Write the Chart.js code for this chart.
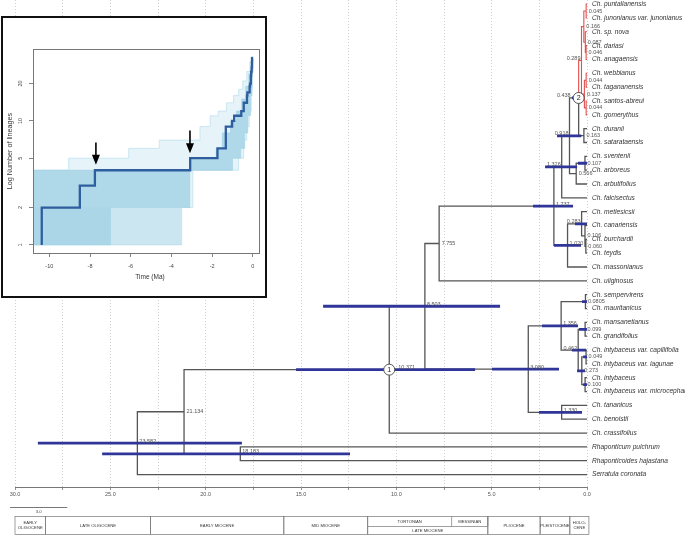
<!DOCTYPE html>
<html>
<head>
<meta charset="utf-8">
<script src="https://cdn.jsdelivr.net/npm/chart.js@4.4.1/dist/chart.umd.min.js"></script>
<style>
  html, body { margin: 0; padding: 0; background: #fff; }
  #wrap { position: relative; width: 685px; height: 535px; }
  #inset { position: absolute; left: 1px; top: 16px; width: 262px; height: 278px; border: 2px solid #111; background: #fff; }
</style>
</head>
<body>
<div id="wrap">
  <canvas id="tree" width="685" height="535"></canvas>
  <div id="inset"><canvas id="ltt" width="262" height="278"></canvas></div>
</div>
<script>
// ---- tree data (tips listed top to bottom) ----
var tipNames = ['Ch. puntallanensis', 'Ch. junonianus var. junonianus', 'Ch. sp. nova', 'Ch. dariasi', 'Ch. anagaensis',
  'Ch. webbianus', 'Ch. tagananensis', 'Ch. santos-abreui', 'Ch. gomerythus', 'Ch. duranii', 'Ch. satarataensis',
  'Ch. sventenii', 'Ch. arboreus', 'Ch. arbutifolius', 'Ch. falcisectus', 'Ch. metlesicsii', 'Ch. canariensis',
  'Ch. burchardii', 'Ch. teydis', 'Ch. massonianus', 'Ch. uliginosus', 'Ch. sempervirens', 'Ch. mauritanicus',
  'Ch. mansanetianus', 'Ch. grandifolius', 'Ch. intybaceus var. capillifolia', 'Ch. intybaceus var. lagunae',
  'Ch. intybaceus', 'Ch. intybaceus var. microcephala', 'Ch. tananicus', 'Ch. benoistii', 'Ch. crassifolius',
  'Rhaponticum pulchrum', 'Rhaponticoides hajastana', 'Serratula coronata'];

// node ages (Ma), children: <100 = tip index, 100+k = node k
var nodeAges = [0.045, 0.046, 0.087, 0.166, 0.044, 0.044, 0.137, 0.289, 0.163, 0.438, 0.107, 0.566, 0.918, 1.326,
  0.060, 0.106, 0.283, 1.020, 1.737, 7.755, 0.0805, 0.099, 0.049, 0.100, 0.273, 0.462, 1.356, 1.330, 3.080,
  8.503, 10.371, 18.183, 21.134, 23.582];
var nodeKids = [[0, 1], [3, 4], [2, 101], [100, 102], [5, 6], [7, 8], [104, 105], [103, 106], [9, 10], [107, 108],
  [11, 12], [110, 13], [109, 111], [112, 14], [17, 18], [16, 114], [15, 115], [116, 19], [113, 117], [118, 20],
  [21, 22], [23, 24], [25, 26], [27, 28], [122, 123], [121, 124], [120, 125], [29, 30], [126, 127], [119, 128],
  [129, 31], [32, 33], [130, 131], [132, 34]];
// 95% HPD of node ages (null = not drawn)
var hpdLow = [null, null, null, null, null, null, null, null, null, 0.25, 0.0, null, 0.30, 0.52,
  null, null, 0.0, 0.31, 0.73, null, 0.0, 0.0, 0.0, 0.0, 0.10, 0.05, 0.47, 0.26, 1.47,
  4.56, 5.87, 12.43, null, 18.1];
var hpdHigh = [null, null, null, null, null, null, null, null, null, 0.79, 0.47, null, 1.57, 2.20,
  null, null, 0.63, 1.73, 2.83, null, 0.26, 0.42, 0.20, 0.20, 0.52, 0.79, 2.36, 2.52, 4.98,
  13.84, 15.26, 25.43, null, 28.8];
var redCladeNode = 7;
var circleNodes = [30, 9];
var circleText = ['1', '2'];

// time axis and geological scale
var axisTicks = [0, 2.5, 5, 7.5, 10, 12.5, 15, 17.5, 20, 22.5, 25, 27.5, 30];
var epochStart = [30, 28.4, 22.9, 15.9, 11.5, 5.2, 2.46, 0.9];
var epochEnd = [28.4, 22.9, 15.9, 11.5, 5.2, 2.46, 0.9, -0.1];
var epochNames = ['EARLY|OLIGOCENE', 'LATE OLIGOCENE', 'EARLY MIOCENE', 'MID MIOCENE', 'LATE MIOCENE', 'PLIOCENE', 'PLEISTOCENE', 'HOLO-|CENE'];
var stageStart = [11.5, 7.1];
var stageEnd = [7.1, 5.2];
var stageNames = ['TORTONIAN', 'MESSINIAN'];
var scaleBarStart = 30.26, scaleBarLen = 3.0;

// ---- lineages-through-time inset ----
var lttTimes = [-10.37, -10.37, -8.50, -7.76, -3.08, -1.74, -1.33, -1.02, -0.92, -0.57, -0.45, -0.29, -0.27, -0.16, -0.14, -0.10, -0.087, -0.06, -0.046, -0.044, 0];
var lttCounts = [1, 2, 3, 4, 5, 6, 9, 10, 11, 12, 14, 16, 17, 19, 20, 23, 25, 27, 29, 32, 32];
var outerTopT = [-10.8, -9.05, -6.1, -4.6, -2.6, -2.1, -1.7, -1.3, -0.95, -0.7, -0.5, -0.3, -0.15, -0.05, 0];
var outerTopN = [4, 5, 6, 7, 9, 11, 12, 14, 16, 18, 21, 25, 30, 33, 33];
var outerBotT = [-10.8, -3.5, -2.95, -0.7, -0.45, -0.3, -0.18, -0.08, -0.03, 0];
var outerBotN = [1, 2, 4, 5, 7, 9, 12, 18, 25, 33];
var midTopT = [-10.8, -3.5];
var midTopN = [2, 2];
var midBotT = [-10.8, -3.5];
var midBotN = [1, 1];
var innerTopT = [-10.8, -3.1, -1.8, -1.5, -1.1, -0.8, -0.55, -0.35, -0.2, -0.08, 0];
var innerTopN = [4, 5, 6, 8, 10, 12, 15, 19, 24, 30, 33];
var innerBotT = [-10.8, -7.0, -3.1, -1.0, -0.6, -0.4, -0.25, -0.12, -0.04, 0];
var innerBotN = [1, 2, 4, 5, 6, 8, 11, 16, 24, 33];
var lttXTicks = [-10, -8, -6, -4, -2, 0];
var lttYTicks = [1, 2, 5, 10, 20];
var arrowTimes = [-7.71, -3.09];
var arrowFrom = [6.68, 8.35];
var arrowTo = [4.42, 5.49];

var FONT = '"Liberation Sans", Arial, Helvetica, sans-serif';
Chart.defaults.font.family = FONT;

// layout of the tree
var nodeY = [];
function yOf(id) { return id >= 100 ? nodeY[id - 100] : id; }
function ageOf(id) { return id >= 100 ? nodeAges[id - 100] : 0; }
nodeKids.forEach(function (kids, k) {
  nodeY[k] = (yOf(kids[0]) + yOf(kids[kids.length - 1])) / 2;
});
var redNode = nodeAges.map(function () { return false; });
redNode[redCladeNode] = true;
for (var k = nodeKids.length - 1; k >= 0; k--) {
  if (redNode[k]) nodeKids[k].forEach(function (c) { if (c >= 100) redNode[c - 100] = true; });
}

var darkPts = [], redPts = [], hpdPts = [];
nodeKids.forEach(function (kids, k) {
  kids.forEach(function (c) {
    var red = c >= 100 ? redNode[c - 100] : redNode[k];
    var arr = red ? redPts : darkPts;
    arr.push({x: nodeAges[k], y: nodeY[k]}, {x: nodeAges[k], y: yOf(c)}, {x: ageOf(c), y: yOf(c)}, {x: ageOf(c), y: null});
  });
  if (hpdLow[k] !== null) {
    hpdPts.push({x: hpdHigh[k], y: nodeY[k]}, {x: hpdLow[k], y: nodeY[k]}, {x: hpdLow[k], y: null});
  }
});

// where each node label sits: l = left/above, r = right/above, m = right/middle
var labelSide = ['m', 'm', 'm', 'm', 'm', 'm', 'm', 'l', 'm', 'l', 'm', 'm', 'l', 'l', 'm', 'm', 'l', 'r', 'r', 'm',
  'm', 'm', 'm', 'm', 'm', 'l', 'r', 'r', 'r', 'r', 'r', 'r', 'm', 'r'];

var treeText = {
  id: 'treeText',
  afterDatasetsDraw: function (chart) {
    var ctx = chart.ctx, xs = chart.scales.x, ys = chart.scales.y;
    ctx.save();
    // node age labels
    ctx.font = '5.5px ' + FONT;
    ctx.fillStyle = '#555';
    nodeAges.forEach(function (a, k) {
      var px = xs.getPixelForValue(a), py = ys.getPixelForValue(nodeY[k]);
      var off = circleNodes.indexOf(k) >= 0 ? 7 : 0;
      var s = labelSide[k];
      var txt = String(a.toFixed(a < 0.09 && a.toString().length > 5 ? 4 : 3));
      if (s === 'l') { ctx.textAlign = 'right'; ctx.textBaseline = 'alphabetic'; ctx.fillText(txt, px - 1 - off, py - 0.5); }
      else if (s === 'r') { ctx.textAlign = 'left'; ctx.textBaseline = 'alphabetic'; ctx.fillText(txt, px + 2 + off, py - 0.5); }
      else { ctx.textAlign = 'left'; ctx.textBaseline = 'middle'; ctx.fillText(txt, px + 2.5, py); }
    });
    // numbered circles
    circleNodes.forEach(function (k, i) {
      var px = xs.getPixelForValue(nodeAges[k]), py = ys.getPixelForValue(nodeY[k]);
      ctx.beginPath();
      ctx.arc(px, py, 5.5, 0, Math.PI * 2);
      ctx.fillStyle = '#fff'; ctx.fill();
      ctx.lineWidth = 0.9; ctx.strokeStyle = '#444'; ctx.stroke();
      ctx.fillStyle = '#222'; ctx.font = '7px ' + FONT;
      ctx.textAlign = 'center'; ctx.textBaseline = 'middle';
      ctx.fillText(circleText[i], px, py + 0.5);
    });
    // tip names
    ctx.font = 'italic 6.6px ' + FONT;
    ctx.fillStyle = '#333';
    ctx.textAlign = 'left'; ctx.textBaseline = 'middle';
    var x0 = xs.getPixelForValue(0) + 5;
    tipNames.forEach(function (n, i) { ctx.fillText(n, x0, ys.getPixelForValue(i)); });

    // scale bar
    var b1 = xs.getPixelForValue(scaleBarStart), b2 = xs.getPixelForValue(scaleBarStart - scaleBarLen);
    ctx.strokeStyle = '#555'; ctx.lineWidth = 0.8;
    ctx.beginPath(); ctx.moveTo(b1, 507.5); ctx.lineTo(b2, 507.5); ctx.stroke();
    ctx.font = '4.2px ' + FONT; ctx.fillStyle = '#444'; ctx.textAlign = 'center';
    ctx.fillText(scaleBarLen.toFixed(1), (b1 + b2) / 2, 512);

    // geological time scale
    var top = 516.5, mid = 526.5, bot = 534.5;
    ctx.strokeStyle = '#777'; ctx.lineWidth = 0.7;
    ctx.font = '4.2px ' + FONT; ctx.fillStyle = '#333';
    epochStart.forEach(function (s, i) {
      var xa = xs.getPixelForValue(s), xb = xs.getPixelForValue(epochEnd[i]);
      ctx.strokeRect(xa, top, xb - xa, bot - top);
      var parts = epochNames[i].split('|');
      var cx = (xa + xb) / 2;
      if (stageStart.indexOf(s) >= 0) {
        ctx.beginPath(); ctx.moveTo(xa, mid); ctx.lineTo(xb, mid); ctx.stroke();
        ctx.fillText(parts[0], cx, (mid + bot) / 2);
      } else if (parts.length === 2) {
        ctx.fillText(parts[0], cx, (top + bot) / 2 - 2.6);
        ctx.fillText(parts[1], cx, (top + bot) / 2 + 2.6);
      } else {
        ctx.fillText(parts[0], cx, (top + bot) / 2);
      }
    });
    stageStart.forEach(function (s, i) {
      var xa = xs.getPixelForValue(s), xb = xs.getPixelForValue(stageEnd[i]);
      ctx.beginPath(); ctx.moveTo(xb, top); ctx.lineTo(xb, mid); ctx.stroke();
      ctx.fillText(stageNames[i], (xa + xb) / 2, (top + mid) / 2);
    });
    ctx.restore();
  }
};

new Chart(document.getElementById('tree'), {
  type: 'line',
  data: {
    datasets: [
      { data: hpdPts, borderColor: '#2f3599', borderWidth: 2.8, borderCapStyle: 'butt', pointRadius: 0, spanGaps: false, fill: false, order: 0 },
      { data: redPts, borderColor: '#e2504f', borderWidth: 1.1, pointRadius: 0, spanGaps: false, fill: false, order: 1 },
      { data: darkPts, borderColor: '#555', borderWidth: 1.3, pointRadius: 0, spanGaps: false, fill: false, order: 2 }
    ]
  },
  options: {
    responsive: false,
    animation: false,
    events: [],
    layout: { padding: { left: 15, right: 98, top: 0, bottom: 36 } },
    plugins: { legend: { display: false }, tooltip: { enabled: false } },
    scales: {
      x: {
        type: 'linear', reverse: true, min: 0, max: 30,
        afterFit: function (s) { s.height = 12; },
        afterBuildTicks: function (s) { s.ticks = axisTicks.map(function (v) { return {value: v}; }); },
        ticks: {
          autoSkip: false, maxRotation: 0, padding: 1, color: '#555', font: { size: 5.5 },
          callback: function (v) { return v % 5 === 0 ? v.toFixed(1) : ''; }
        },
        grid: { color: '#c2c2c2', lineWidth: 0.8, tickLength: 3, tickColor: '#777', tickWidth: 0.8 },
        border: { display: true, color: '#777', width: 1, dash: [1, 2] }
      },
      y: { type: 'linear', reverse: true, min: -0.3, max: 34.9, display: false }
    }
  },
  plugins: [treeText]
});

// ---- inset ----
function pts(t, n) { return t.map(function (v, i) { return {x: v, y: n[i]}; }); }

var lttDeco = {
  id: 'lttDeco',
  afterDraw: function (chart) {
    var ctx = chart.ctx, xs = chart.scales.x, ys = chart.scales.y, a = chart.chartArea;
    ctx.save();
    ctx.strokeStyle = '#777'; ctx.lineWidth = 1;
    ctx.strokeRect(a.left + 0.5, a.top + 0.5, a.right - a.left, a.bottom - a.top);
    // arrows
    ctx.fillStyle = '#000'; ctx.strokeStyle = '#000';
    arrowTimes.forEach(function (t, i) {
      var x = xs.getPixelForValue(t), y1 = ys.getPixelForValue(arrowFrom[i]), y2 = ys.getPixelForValue(arrowTo[i]);
      ctx.lineWidth = 1.6;
      ctx.beginPath(); ctx.moveTo(x, y1); ctx.lineTo(x, y2 - 8); ctx.stroke();
      ctx.beginPath(); ctx.moveTo(x - 4, y2 - 10); ctx.lineTo(x + 4, y2 - 10); ctx.lineTo(x, y2); ctx.closePath(); ctx.fill();
    });
    // y labels and titles
    ctx.fillStyle = '#444';
    ctx.font = '5.5px ' + FONT;
    ctx.textAlign = 'center'; ctx.textBaseline = 'middle';
    lttYTicks.forEach(function (v) {
      ctx.save();
      ctx.translate(a.left - 13, ys.getPixelForValue(v));
      ctx.rotate(-Math.PI / 2);
      ctx.fillText(String(v), 0, 0);
      ctx.restore();
    });
    ctx.fillStyle = '#333';
    ctx.font = '7.2px ' + FONT;
    ctx.save();
    ctx.translate(7.5, (a.top + a.bottom) / 2);
    ctx.rotate(-Math.PI / 2);
    ctx.fillText('Log Number of lineages', 0, 0);
    ctx.restore();
    ctx.font = '6.5px ' + FONT;
    ctx.fillText('Time (Ma)', (a.left + a.right) / 2 + 4, 259);
    ctx.restore();
  }
};

var band = { borderWidth: 0.6, stepped: true, pointRadius: 0 };
new Chart(document.getElementById('ltt'), {
  type: 'line',
  data: {
    datasets: [
      { data: pts(lttTimes, lttCounts), borderColor: '#2f5e9f', borderWidth: 2.3, stepped: true, pointRadius: 0, fill: false, order: 0 },
      Object.assign({ data: pts(innerTopT, innerTopN), borderColor: 'rgba(150,205,225,0.9)', fill: '+1', backgroundColor: 'rgba(166,212,230,0.85)', order: 1 }, band),
      Object.assign({ data: pts(innerBotT, innerBotN), borderColor: 'rgba(150,205,225,0.9)', fill: false, order: 2 }, band),
      Object.assign({ data: pts(midTopT, midTopN), borderColor: 'rgba(0,0,0,0)', fill: '+1', backgroundColor: 'rgba(170,215,232,0.45)', order: 3 }, band),
      Object.assign({ data: pts(midBotT, midBotN), borderColor: 'rgba(0,0,0,0)', fill: false, order: 4 }, band),
      Object.assign({ data: pts(outerTopT, outerTopN), borderColor: 'rgba(170,215,232,0.9)', fill: '+1', backgroundColor: 'rgba(176,218,234,0.32)', order: 5 }, band),
      Object.assign({ data: pts(outerBotT, outerBotN), borderColor: 'rgba(170,215,232,0.9)', fill: false, order: 6 }, band)
    ]
  },
  options: {
    responsive: false,
    animation: false,
    events: [],
    layout: { padding: { left: 0, right: 6, top: 31, bottom: 0 } },
    plugins: { legend: { display: false }, tooltip: { enabled: false } },
    scales: {
      x: {
        type: 'linear', min: -10.8, max: 0.3,
        afterFit: function (s) { s.height = 43; },
        afterBuildTicks: function (s) { s.ticks = lttXTicks.map(function (v) { return {value: v}; }); },
        ticks: { autoSkip: false, maxRotation: 0, padding: 6, color: '#444', font: { size: 5.5 }, callback: function (v) { return String(v); } },
        grid: { drawOnChartArea: false, tickLength: 4, tickColor: '#666', tickWidth: 0.8 },
        border: { display: false }
      },
      y: {
        type: 'logarithmic', min: 0.86, max: 38,
        afterFit: function (s) { s.width = 30; },
        afterBuildTicks: function (s) { s.ticks = lttYTicks.map(function (v) { return {value: v}; }); },
        ticks: { display: false },
        grid: { drawOnChartArea: false, tickLength: 4, tickColor: '#666', tickWidth: 0.8 },
        border: { display: false }
      }
    }
  },
  plugins: [lttDeco]
});
</script>
</body>
</html>
